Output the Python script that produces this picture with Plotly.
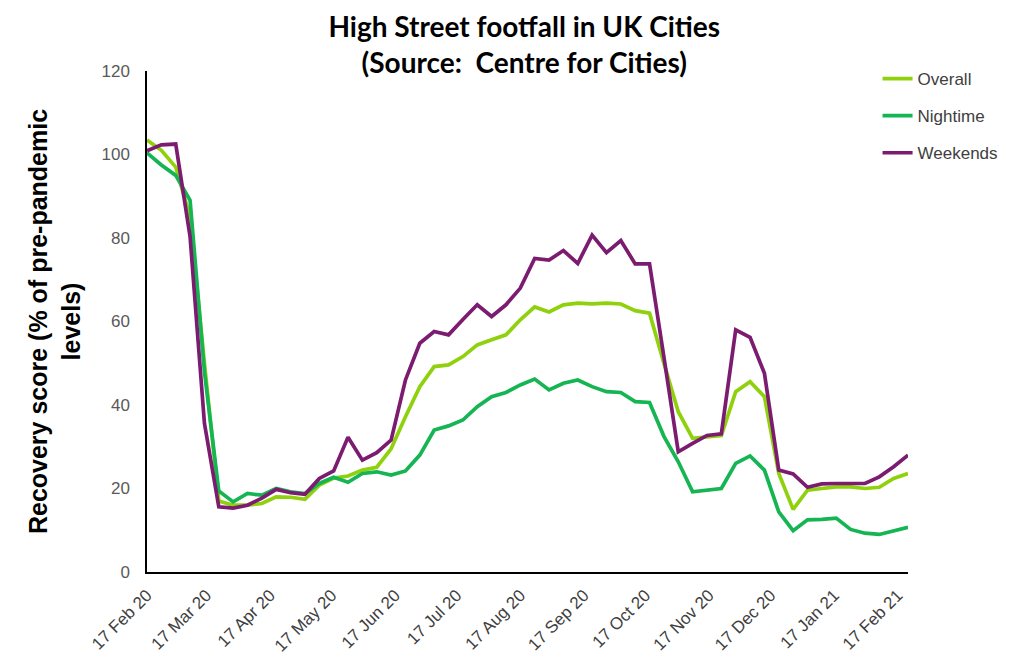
import plotly.graph_objects as go
import pandas as pd

weeks = pd.date_range("2020-02-17", periods=54, freq="7D")

overall = [103.5, 101.0, 97.0, 85.0, 50.0, 17.0, 16.0, 16.0, 16.4, 18.0,
           17.9, 17.4, 20.8, 22.5, 23.0, 24.4, 25.1, 29.5, 37.2, 44.4,
           49.2, 49.6, 51.6, 54.4, 55.6, 56.8, 60.4, 63.5, 62.3, 64.0,
           64.4, 64.2, 64.4, 64.2, 62.6, 62.0, 50.0, 38.4, 32.0, 32.4,
           32.7, 43.2, 45.6, 42.0, 23.6, 15.0, 19.6, 20.0, 20.4, 20.4,
           20.0, 20.3, 22.4, 23.6]

nightime = [100.4, 97.5, 95.0, 89.0, 48.0, 19.4, 16.8, 18.8, 18.4, 20.0,
            19.2, 18.8, 21.2, 22.7, 21.5, 23.6, 24.0, 23.2, 24.2, 28.0,
            34.0, 35.0, 36.4, 39.6, 42.0, 43.0, 44.8, 46.2, 43.6, 45.2,
            46.0, 44.4, 43.2, 43.0, 40.8, 40.6, 32.5, 26.4, 19.2, 19.5,
            20.0, 26.0, 27.8, 24.4, 14.4, 9.9, 12.5, 12.6, 12.9, 10.2,
            9.3, 9.0, 9.9, 10.7]

weekends = [100.9, 102.3, 102.5, 80.3, 35.6, 15.6, 15.3, 16.0, 17.7, 19.8,
            19.0, 18.6, 22.4, 24.2, 32.3, 26.8, 28.6, 31.6, 46.0, 54.8,
            57.6, 56.8, 60.5, 64.0, 61.2, 64.0, 68.0, 75.1, 74.7, 77.0,
            73.9, 80.7, 76.5, 79.4, 73.8, 73.8, 51.5, 28.8, 30.8, 32.7,
            33.1, 58.0, 56.2, 47.6, 24.4, 23.5, 20.3, 21.1, 21.2, 21.1,
            21.2, 22.8, 25.2, 28.0]

tick_dates = ["2020-02-17", "2020-03-17", "2020-04-17", "2020-05-17", "2020-06-17",
              "2020-07-17", "2020-08-17", "2020-09-17", "2020-10-17", "2020-11-17",
              "2020-12-17", "2021-01-17", "2021-02-17"]
tick_labels = ["17 Feb 20", "17 Mar 20", "17 Apr 20", "17 May 20", "17 Jun 20",
               "17 Jul 20", "17 Aug 20", "17 Sep 20", "17 Oct 20", "17 Nov 20",
               "17 Dec 20", "17 Jan 21", "17 Feb 21"]

series = [("Overall", overall, "#8fd10c"),
          ("Nightime", nightime, "#14b552"),
          ("Weekends", weekends, "#7b1c70")]

fig = go.Figure()
for i, (name, vals, col) in enumerate(series):
    fig.add_trace(go.Scatter(x=weeks, y=vals, name=name, mode="lines",
                             line=dict(color=col, width=3.7),
                             legendgroup=f"g{i}"))

fig.update_layout(
    width=1018, height=672,
    margin=dict(l=147, r=110, t=71, b=100),
    paper_bgcolor="white", plot_bgcolor="white",
    title=dict(text="<b>High Street footfall in UK Cities<br>(Source:  Centre for Cities)</b>",
               x=0.515, xanchor="center", yref="container", y=0.945, yanchor="middle",
               font=dict(family="Lato, Open Sans, sans-serif", size=28, color="black")),
    legend=dict(x=0.96, xanchor="left", y=1.02, yanchor="top",
                font=dict(family="Liberation Sans, Arial, sans-serif", size=17, color="#404040"),
                tracegroupgap=12, traceorder="grouped", bgcolor="rgba(0,0,0,0)"),
    showlegend=True,
)

fig.update_xaxes(type="date", range=["2020-02-17", "2021-02-22"],
                 tickvals=tick_dates, ticktext=tick_labels, tickangle=-45,
                 showgrid=False, zeroline=False, showline=True, linecolor="black",
                 linewidth=1.5, ticks="", ticklabelstandoff=5,
                 tickfont=dict(family="Liberation Sans, Arial, sans-serif", size=17, color="#404040"))
fig.update_yaxes(range=[0, 120], tickvals=[0, 20, 40, 60, 80, 100, 120],
                 showgrid=False, zeroline=False, showline=True, linecolor="black",
                 linewidth=1.5, ticks="", ticklabelstandoff=12,
                 tickfont=dict(family="Liberation Sans, Arial, sans-serif", size=17, color="#595959"),
                 title=dict(text="<b>Recovery score (% of pre-pandemic<br>levels)</b>",
                            font=dict(family="Liberation Sans, Arial, sans-serif", size=25, color="black"),
                            standoff=14))

fig.write_html("out.html")
